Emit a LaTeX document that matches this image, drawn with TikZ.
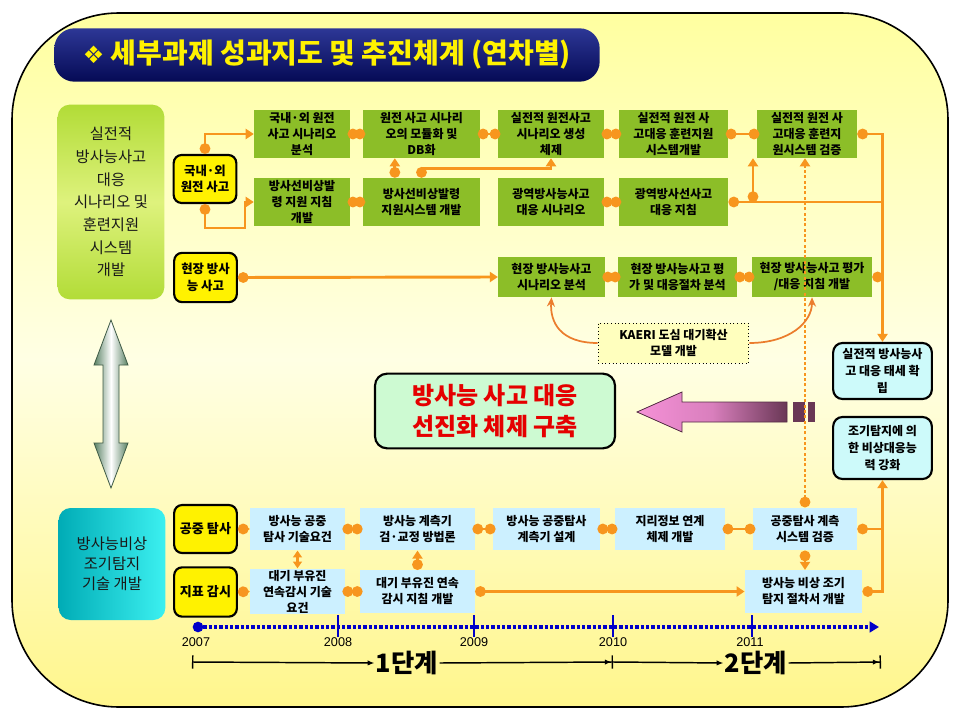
\documentclass[tikz,border=0pt]{standalone}
\usepackage{fontspec}
\setmainfont{Noto Sans CJK KR}
\newfontfamily\symfont{DejaVu Sans}
\newfontfamily\numfont{Liberation Sans}
\usetikzlibrary{arrows.meta}

\definecolor{panelyellow}{RGB}{255,255,160}
\definecolor{panellight}{RGB}{255,255,228}
\definecolor{panelbottom}{RGB}{255,246,140}
\definecolor{boxgreen}{RGB}{140,190,40}
\definecolor{boxblue}{RGB}{204,240,255}
\definecolor{boxcyan}{RGB}{205,250,250}
\definecolor{linkorange}{RGB}{247,150,30}
\definecolor{curveorange}{RGB}{235,125,45}
\definecolor{goalgreen}{RGB}{205,250,210}
\definecolor{navytop}{RGB}{45,55,150}
\definecolor{navybottom}{RGB}{5,10,85}
\definecolor{timeblue}{RGB}{0,0,200}
\definecolor{kaeriyellow}{RGB}{255,255,190}
\definecolor{devgreen}{RGB}{178,220,55}
\definecolor{devlight}{RGB}{222,242,125}
\definecolor{detteal}{RGB}{0,172,182}
\definecolor{detcyan}{RGB}{60,240,240}
\definecolor{arrowgreen}{RGB}{90,130,100}
\definecolor{pinkarrow}{RGB}{245,145,215}
\definecolor{plumarrow}{RGB}{105,55,85}

\begin{document}
\begin{tikzpicture}[x=0.75pt,y=-0.75pt,
  gbox/.style={fill=boxgreen,align=center,inner sep=1pt,minimum height=36pt,font=\bfseries\fontsize{9}{12}\selectfont},
  gsmall/.style={gbox,minimum height=30pt},
  bbox/.style={fill=boxblue,align=center,inner sep=1pt,minimum height=32pt,font=\bfseries\fontsize{9}{12}\selectfont},
  ybox/.style={fill=yellow,draw=black,line width=1.6pt,rounded corners=6pt,align=center,inner sep=1pt,
    minimum width=47pt,minimum height=36pt,font=\bfseries\fontsize{9.3}{12.5}\selectfont},
  cbox/.style={fill=boxcyan,draw=black,line width=1.6pt,rounded corners=7pt,align=center,inner sep=1pt,
    minimum width=74pt,font=\bfseries\fontsize{9}{12.5}\selectfont},
  lbox/.style={rounded corners=9pt,align=center,text=black!90,minimum width=80pt},
  link/.style={draw=linkorange,line width=2.2pt,shorten <=-2pt,shorten >=-2pt,
    {Circle[length=8pt]}-{Circle[length=8pt]}},
  tap/.style={draw=linkorange,line width=2.2pt,{Circle[length=8pt]}-{Triangle[length=6pt,width=7.5pt]}},
  busjoin/.style={draw=linkorange,line width=2.2pt,{Circle[length=8pt]}-},
  twoway/.style={draw=linkorange,line width=2.2pt,{Triangle[length=5pt,width=6.5pt]}-{Triangle[length=5pt,width=6.5pt]}},
  dotlink/.style={draw=linkorange,line width=2.2pt,dash pattern=on 2.2pt off 1.8pt,
    {Circle[length=8pt]}-{Triangle[length=6pt,width=7.5pt]}},
  curvearrow/.style={draw=curveorange,line width=1.3pt,-{Stealth[length=7pt,width=6pt]}},
  phaseline/.style={draw=black,line width=1.1pt},
  yearlbl/.style={font=\numfont\fontsize{9.5}{10}\selectfont,inner sep=1pt},
  phaselbl/.style={font=\bfseries\fontsize{19}{21}\selectfont,inner sep=1pt}
]
\useasboundingbox (0,0) rectangle (960,720);
\fill[white] (0,0) rectangle (960,720);

%Hintergrund
\draw[line width=1.2pt,rounded corners=80pt,top color=panelyellow,bottom color=panelbottom,middle color=panellight]
  (12,13) rectangle (948,707);

%Titel
\node[rounded corners=15pt,top color=navytop,bottom color=navybottom,minimum width=409pt,minimum height=40pt,
  text=yellow,font=\bfseries\fontsize{21}{24}\selectfont] (banner) at (327,55)
  {{\symfont\fontsize{18}{18}\selectfont ❖} 세부과제 성과지도 및 추진체계 (연차별)};

%Linke Kaesten
\node[lbox,top color=devgreen,bottom color=devgreen,middle color=devlight,minimum height=146pt,
  font=\fontsize{11.5}{17}\selectfont] (dev) at (111,202)
  {실전적\\방사능사고\\대응\\시나리오 및\\훈련지원\\시스템\\개발};
\node[lbox,left color=detteal,right color=detcyan,minimum height=84pt,
  font=\fontsize{11.5}{15}\selectfont] (det) at (112,564)
  {방사능비상\\조기탐지\\기술 개발};
\shadedraw[left color=arrowgreen,right color=arrowgreen,middle color=white,draw=arrowgreen!70!black,line width=0.6pt]
  (111,320) -- (128,365) -- (119,365) -- (119,443) -- (128,443) -- (111,488)
  -- (94,443) -- (103,443) -- (103,365) -- (94,365) -- cycle;

%Ausloeser
\node[ybox] (Y1) at (205,179) {국내·외\\원전 사고};
\node[ybox,minimum height=37pt] (Y2) at (205.5,277.5) {현장 방사\\능 사고};
\node[ybox,font=\bfseries\fontsize{9.8}{12}\selectfont] (Y3) at (205.5,529) {공중 탐사};
\node[ybox,minimum height=37pt,font=\bfseries\fontsize{9.8}{12}\selectfont] (Y4) at (205.5,592) {지표 감시};

%Obere Zeile
\node[gbox,minimum width=72pt] (A1) at (302,134) {국내·외 원전\\사고 시나리오\\분석};
\node[gbox,minimum width=88pt] (A2) at (421.5,134) {원전 사고 시나리\\오의 모듈화 및\\DB화};
\node[gbox,minimum width=79.5pt] (A3) at (551,134) {실전적 원전사고\\시나리오 생성\\체제};
\node[gbox,minimum width=82pt] (A4) at (673.5,134) {실전적 원전 사\\고대응 훈련지원\\시스템개발};
\node[gbox,minimum width=75pt] (A5) at (807,134) {실전적 원전 사\\고대응 훈련지\\원시스템 검증};

%Zweite Zeile
\node[gbox,minimum width=72pt] (B1) at (302,202) {방사선비상발\\령 지원 지침\\개발};
\node[gbox,minimum width=88pt] (B2) at (421.5,202) {방사선비상발령\\지원시스템 개발};
\node[gbox,minimum width=79.5pt] (B3) at (551,202) {광역방사능사고\\대응 시나리오};
\node[gbox,minimum width=82pt] (B4) at (673.5,202) {광역방사선사고\\대응 지침};

%Dritte Zeile
\node[gsmall,minimum width=80pt] (C1) at (551.5,277) {현장 방사능사고\\시나리오 분석};
\node[gsmall,minimum width=89pt] (C2) at (677.5,277) {현장 방사능사고 평\\가 및 대응절차 분석};
\node[gsmall,minimum width=90pt] (C3) at (812,277) {현장 방사능사고 평가\\/대응 지침 개발};

%Untere Zeilen
\node[bbox,minimum width=71pt] (D1) at (297.5,529) {방사능 공중\\탐사 기술요건};
\node[bbox,minimum width=86pt] (D2) at (417.5,529) {방사능 계측기\\검·교정 방법론};
\node[bbox,minimum width=80pt] (D3) at (546.5,529) {방사능 공중탐사\\계측기 설계};
\node[bbox,minimum width=82.5pt] (D4) at (670,529) {지리정보 연계\\체제 개발};
\node[bbox,minimum width=78pt] (D5) at (805,529) {공중탐사 계측\\시스템 검증};
\node[bbox,minimum width=71pt] (E1) at (297.5,591.5) {대기 부유진\\연속감시 기술\\요건};
\node[bbox,minimum width=86pt] (E2) at (417.5,591.5) {대기 부유진 연속\\감시 지침 개발};
\node[bbox,minimum width=88pt] (E3) at (803.5,591.5) {방사능 비상 조기\\탐지 절차서 개발};

%Ergebnisse
\node[cbox,minimum height=42pt] (F1) at (882.5,371) {실전적 방사능사\\고 대응 태세 확\\립};
\node[cbox,minimum height=46.5pt] (F2) at (882.5,448) {조기탐지에 의\\한 비상대응능\\력 강화};
\node[fill=kaeriyellow,draw=black,dotted,line width=0.7pt,align=center,minimum width=113pt,minimum height=30pt,
  inner sep=1pt,font=\bfseries\fontsize{9}{12}\selectfont] (kaeri) at (673.5,343)
  {KAERI 도심 대기확산\\모델 개발};
\node[fill=goalgreen,draw=black,line width=1.6pt,rounded corners=9pt,align=center,minimum width=180pt,
  minimum height=56pt,text=red!90!black,font=\bfseries\fontsize{18}{23}\selectfont] (goal) at (495,411)
  {방사능 사고 대응\\선진화 체제 구축};

%Pfeil zum Ziel
\shadedraw[left color=pinkarrow,right color=plumarrow,middle color=pinkarrow!80!plumarrow,draw=plumarrow!80!black,line width=0.6pt]
  (637,412) -- (682,392) -- (682,402) -- (787,402) -- (787,422) -- (682,422) -- (682,432) -- cycle;
\fill[plumarrow] (793,402) rectangle (805,422);
\fill[plumarrow] (808,402) rectangle (815,422);

%Verbindungen
\coordinate (y1bend) at (245,228);
\coordinate (b4tap) at (753,202);
\draw[tap] (Y1.north) |- (A1.west);
\draw[tap] (Y1.south) |- (y1bend) |- (B1.west);
\foreach \a/\b in {A1/A2,A2/A3,A3/A4,A4/A5,B1/B2,B3/B4,C1/C2,C2/C3,D1/D2,D2/D3,D3/D4,D4/D5,E1/E2}
  \draw[link] (\a.east) -- (\b.west);
\draw[tap] (A5.east) -| (F1.north);
\draw[tap] ([xshift=-20pt]B2.north) -- ([xshift=-20pt]A2.south);
\draw[tap] (B2.north) -- ++(0,-9) -| (A3.south);
\draw[busjoin] (B4.east) -- (B4.east -| F1.north);
\draw[tap] (b4tap) -- (b4tap |- A5.south);
\draw[busjoin] (C3.east) -- (C3.east -| F1.north);
\draw[tap] (Y2.east) -- (C1.west);
\draw[tap] (Y3.east) -- (D1.west);
\draw[tap] (Y4.east) -- (E1.west);
\draw[twoway] (D1.south) -- (E1.north);
\draw[tap] (E2.north) -- (D2.south);
\draw[tap] (E2.east) -- (E3.west);
\draw[tap] (D5.south) -- (D5.south |- E3.north);
\draw[busjoin] (D5.east) -- (D5.east -| F2.south);
\draw[tap] (E3.east) -| (F2.south);
\draw[dotlink] (D5.north) -- (D5.north |- A5.south);
\draw[curvearrow] (kaeri.west) .. controls (560,343) and (550,322) .. (C1.south);
\draw[curvearrow] (kaeri.east) .. controls (790,343) and (812,322) .. (C3.south);

%Zeitachse
\coordinate (t7) at (198,627);
\coordinate (tend) at (879,627);
\draw[timeblue,line width=2.4pt,dash pattern=on 2.4pt off 1.6pt,-{Triangle[length=7pt,width=8pt]}] (t7) -- (tend);
\fill[timeblue] (t7) circle (4pt);
\foreach \x in {338,474,613,752}
  \draw[timeblue,line width=1.6pt] (\x,615) -- (\x,637);
\node[yearlbl] (yr7) at (196,642) {2007};
\node[yearlbl] (yr8) at (338,642) {2008};
\node[yearlbl] (yr9) at (474,642) {2009};
\node[yearlbl] (yr10) at (613,642) {2010};
\node[yearlbl] (yr11) at (750,642) {2011};

%Phasen
\coordinate (p0) at (192,662);
\coordinate (p1) at (613,662);
\coordinate (p2) at (881,662);
\node[phaselbl] (ph1) at (407,663) {1단계};
\node[phaselbl] (ph2) at (756,663) {2단계};
\draw[phaseline,{Bar[width=10pt]}-{Latex[length=5pt,width=4pt]}] (p0) -- (ph1.west);
\draw[phaseline,-{Latex[length=5pt,width=4pt]Bar[width=10pt]}] (ph1.east) -- (p1);
\draw[phaseline,-{Latex[length=5pt,width=4pt]}] (p1) -- (ph2.west);
\draw[phaseline,-{Latex[length=5pt,width=4pt]Bar[width=10pt]}] (ph2.east) -- (p2);

\end{tikzpicture}
\end{document}
